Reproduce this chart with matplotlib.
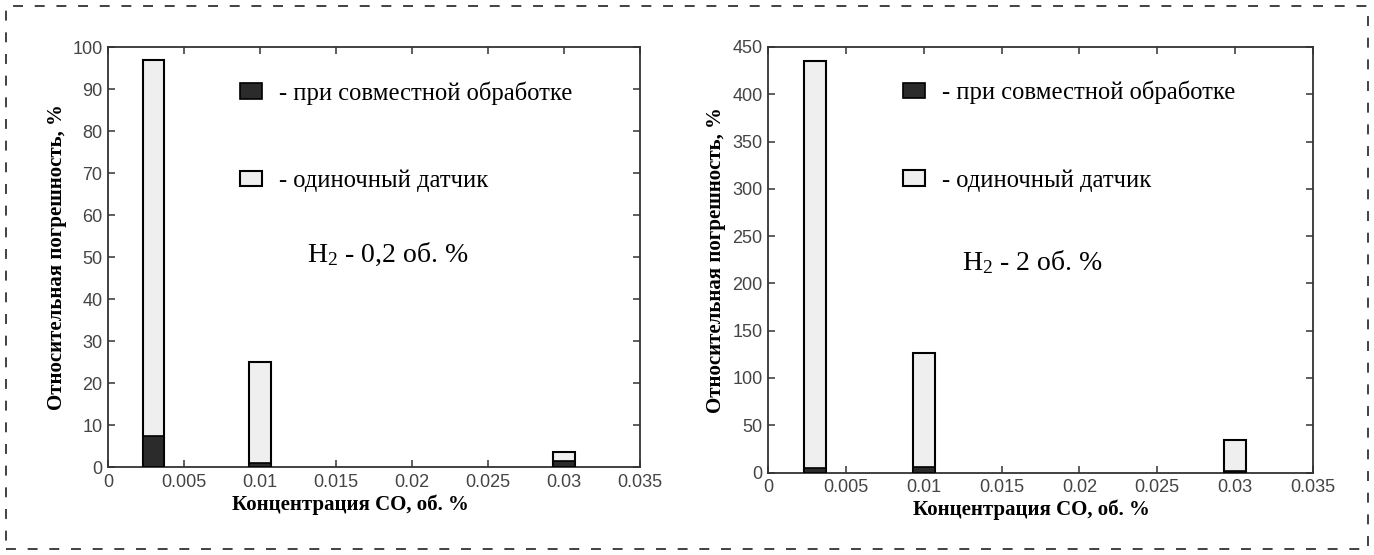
import matplotlib
matplotlib.use('Agg')
import matplotlib.pyplot as plt
import matplotlib.ticker as mtick
from matplotlib.patches import Patch, Rectangle
from matplotlib import font_manager

# CO concentration, vol. %
co_conc = [0.003, 0.01, 0.03]

# relative error, % (H2 = 0.2 vol. %)
single_02 = [97, 25, 3.5]
joint_02 = [7.3, 1.0, 1.5]

# relative error, % (H2 = 2 vol. %)
single_2 = [435, 126, 34]
joint_2 = [4.5, 6.3, 2]

bar_w = 0.0014
light = '#efefef'
dark = '#2b2b2b'
tick_col = '#444444'

serif = 'Liberation Serif'
names = {f.name for f in font_manager.fontManager.ttflist}
sans = 'Liberation Sans Narrow' if 'Liberation Sans Narrow' in names else 'Liberation Sans'

plt.rcParams['mathtext.fontset'] = 'custom'
plt.rcParams['mathtext.rm'] = serif
plt.rcParams['mathtext.it'] = serif + ':italic'
plt.rcParams['mathtext.bf'] = serif + ':bold'

fig = plt.figure(figsize=(13.74, 5.55), dpi=100)

# dashed frame around the whole figure
fig.patches.append(Rectangle((6/1374, 6/555), 1 - 12/1374, 1 - 12/555,
                             transform=fig.transFigure, fill=False,
                             edgecolor='#333333', linewidth=1.3,
                             linestyle=(0, (5.5, 6.5))))

ax1 = fig.add_axes([108/1374, 1 - 467/555, 532/1374, 420/555])
ax2 = fig.add_axes([768/1374, 1 - 472.5/555, 545/1374, 425.5/555])


def draw_panel(ax, single, joint, ymax, ystep, note, note_xy, leg_xy, xlab_xy):
    ax.bar(co_conc, single, width=bar_w, color=light, edgecolor='black',
           linewidth=1.5, zorder=2)
    ax.bar(co_conc, joint, width=bar_w, color=dark, edgecolor='black',
           linewidth=1.2, zorder=3)

    ax.set_xlim(0, 0.035)
    ax.set_ylim(0, ymax)
    ax.set_xticks([0, 0.005, 0.01, 0.015, 0.02, 0.025, 0.03, 0.035])
    ax.set_yticks(range(0, ymax + 1, ystep))
    ax.xaxis.set_major_formatter(mtick.FormatStrFormatter('%g'))
    ax.tick_params(direction='in', length=5, width=1.1, top=True, right=True,
                   colors='#333333', labelcolor=tick_col, labelsize=13)
    ax.tick_params(axis='x', pad=5)
    ax.tick_params(axis='y', pad=4)
    for lab in ax.get_xticklabels() + ax.get_yticklabels():
        lab.set_fontfamily(sans)
    for sp in ax.spines.values():
        sp.set_linewidth(1.3)
        sp.set_color('#333333')

    ax.set_xlabel('Концентрация CO, об. %', family=serif, fontweight='bold',
                  fontsize=15)
    ax.set_ylabel('Относительная погрешность, %', family=serif,
                  fontweight='bold', fontsize=15)
    ax.xaxis.set_label_coords(*xlab_xy)
    ax.yaxis.set_label_coords(-0.077, 0.5)

    handles = [Patch(facecolor=dark, edgecolor='black', linewidth=1.2),
               Patch(facecolor=light, edgecolor='black', linewidth=1.5)]
    ax.legend(handles, ['- при совместной обработке', '- одиночный датчик'],
              loc='upper left', bbox_to_anchor=leg_xy, frameon=False,
              prop={'family': serif, 'size': 17.7}, handlelength=0.9,
              handleheight=0.61, handletextpad=0.69, labelspacing=2.65,
              borderpad=0, borderaxespad=0)

    ax.text(note_xy[0], note_xy[1], note, family=serif, fontsize=20,
            va='center', ha='left', transform=ax.transAxes)


draw_panel(ax1, single_02, joint_02, 100, 10, r'H$_{\mathrm{2}}$ - 0,2 об. %',
           (0.374, 0.505), (0.248, 0.919), (0.455, -0.066))
draw_panel(ax2, single_2, joint_2, 450, 50, r'H$_{\mathrm{2}}$ - 2 об. %',
           (0.356, 0.495), (0.2477, 0.921), (0.4835, -0.063))

fig.savefig('out.png', dpi=100, facecolor='white')
